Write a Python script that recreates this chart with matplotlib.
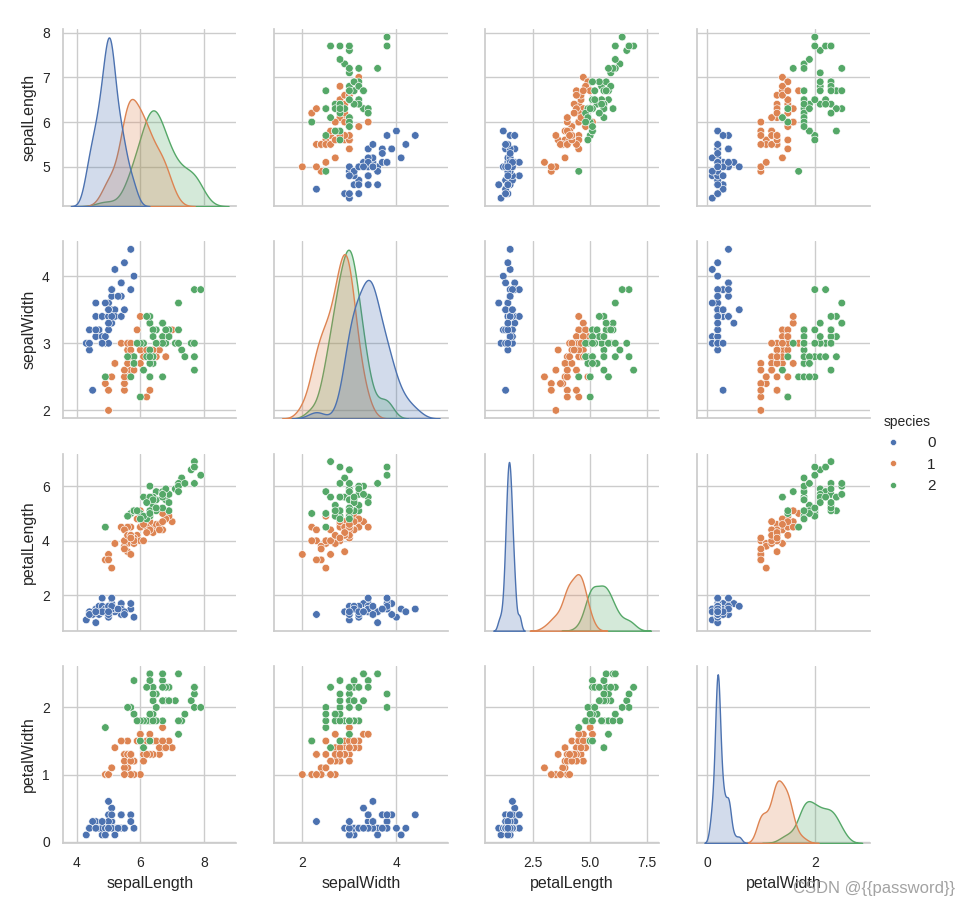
import numpy as np
import pandas as pd
import matplotlib
matplotlib.use("Agg")
import matplotlib.pyplot as plt
from matplotlib.ticker import MultipleLocator
import seaborn as sns

# iris measurements, 50 rows per species (0, 1, 2)
sepalLength = [
    5.1, 4.9, 4.7, 4.6, 5.0, 5.4, 4.6, 5.0, 4.4, 4.9, 5.4, 4.8, 4.8, 4.3, 5.8, 5.7, 5.4, 5.1, 5.7, 5.1,
    5.4, 5.1, 4.6, 5.1, 4.8, 5.0, 5.0, 5.2, 5.2, 4.7, 4.8, 5.4, 5.2, 5.5, 4.9, 5.0, 5.5, 4.9, 4.4, 5.1,
    5.0, 4.5, 4.4, 5.0, 5.1, 4.8, 5.1, 4.6, 5.3, 5.0,
    7.0, 6.4, 6.9, 5.5, 6.5, 5.7, 6.3, 4.9, 6.6, 5.2, 5.0, 5.9, 6.0, 6.1, 5.6, 6.7, 5.6, 5.8, 6.2, 5.6,
    5.9, 6.1, 6.3, 6.1, 6.4, 6.6, 6.8, 6.7, 6.0, 5.7, 5.5, 5.5, 5.8, 6.0, 5.4, 6.0, 6.7, 6.3, 5.6, 5.5,
    5.5, 6.1, 5.8, 5.0, 5.6, 5.7, 5.7, 6.2, 5.1, 5.7,
    6.3, 5.8, 7.1, 6.3, 6.5, 7.6, 4.9, 7.3, 6.7, 7.2, 6.5, 6.4, 6.8, 5.7, 5.8, 6.4, 6.5, 7.7, 7.7, 6.0,
    6.9, 5.6, 7.7, 6.3, 6.7, 7.2, 6.2, 6.1, 6.4, 7.2, 7.4, 7.9, 6.4, 6.3, 6.1, 7.7, 6.3, 6.4, 6.0, 6.9,
    6.7, 6.9, 5.8, 6.8, 6.7, 6.7, 6.3, 6.5, 6.2, 5.9,
]
sepalWidth = [
    3.5, 3.0, 3.2, 3.1, 3.6, 3.9, 3.4, 3.4, 2.9, 3.1, 3.7, 3.4, 3.0, 3.0, 4.0, 4.4, 3.9, 3.5, 3.8, 3.8,
    3.4, 3.7, 3.6, 3.3, 3.4, 3.0, 3.4, 3.5, 3.4, 3.2, 3.1, 3.4, 4.1, 4.2, 3.1, 3.2, 3.5, 3.6, 3.0, 3.4,
    3.5, 2.3, 3.2, 3.5, 3.8, 3.0, 3.8, 3.2, 3.7, 3.3,
    3.2, 3.2, 3.1, 2.3, 2.8, 2.8, 3.3, 2.4, 2.9, 2.7, 2.0, 3.0, 2.2, 2.9, 2.9, 3.1, 3.0, 2.7, 2.2, 2.5,
    3.2, 2.8, 2.5, 2.8, 2.9, 3.0, 2.8, 3.0, 2.9, 2.6, 2.4, 2.4, 2.7, 2.7, 3.0, 3.4, 3.1, 2.3, 3.0, 2.5,
    2.6, 3.0, 2.6, 2.3, 2.7, 3.0, 2.9, 2.9, 2.5, 2.8,
    3.3, 2.7, 3.0, 2.9, 3.0, 3.0, 2.5, 2.9, 2.5, 3.6, 3.2, 2.7, 3.0, 2.5, 2.8, 3.2, 3.0, 3.8, 2.6, 2.2,
    3.2, 2.8, 2.8, 2.7, 3.3, 3.2, 2.8, 3.0, 2.8, 3.0, 2.8, 3.8, 2.8, 2.8, 2.6, 3.0, 3.4, 3.1, 3.0, 3.1,
    3.1, 3.1, 2.7, 3.2, 3.3, 3.0, 2.5, 3.0, 3.4, 3.0,
]
petalLength = [
    1.4, 1.4, 1.3, 1.5, 1.4, 1.7, 1.4, 1.5, 1.4, 1.5, 1.5, 1.6, 1.4, 1.1, 1.2, 1.5, 1.3, 1.4, 1.7, 1.5,
    1.7, 1.5, 1.0, 1.7, 1.9, 1.6, 1.6, 1.5, 1.4, 1.6, 1.6, 1.5, 1.5, 1.4, 1.5, 1.2, 1.3, 1.4, 1.3, 1.5,
    1.3, 1.3, 1.3, 1.6, 1.9, 1.4, 1.6, 1.4, 1.5, 1.4,
    4.7, 4.5, 4.9, 4.0, 4.6, 4.5, 4.7, 3.3, 4.6, 3.9, 3.5, 4.2, 4.0, 4.7, 3.6, 4.4, 4.5, 4.1, 4.5, 3.9,
    4.8, 4.0, 4.9, 4.7, 4.3, 4.4, 4.8, 5.0, 4.5, 3.5, 3.8, 3.7, 3.9, 5.1, 4.5, 4.5, 4.7, 4.4, 4.1, 4.0,
    4.4, 4.6, 4.0, 3.3, 4.2, 4.2, 4.2, 4.3, 3.0, 4.1,
    6.0, 5.1, 5.9, 5.6, 5.8, 6.6, 4.5, 6.3, 5.8, 6.1, 5.1, 5.3, 5.5, 5.0, 5.1, 5.3, 5.5, 6.7, 6.9, 5.0,
    5.7, 4.9, 6.7, 4.9, 5.7, 6.0, 4.8, 4.9, 5.6, 5.8, 6.1, 6.4, 5.6, 5.1, 5.6, 6.1, 5.6, 5.5, 4.8, 5.4,
    5.6, 5.1, 5.1, 5.9, 5.7, 5.2, 5.0, 5.2, 5.4, 5.1,
]
petalWidth = [
    0.2, 0.2, 0.2, 0.2, 0.2, 0.4, 0.3, 0.2, 0.2, 0.1, 0.2, 0.2, 0.1, 0.1, 0.2, 0.4, 0.4, 0.3, 0.3, 0.3,
    0.2, 0.4, 0.2, 0.5, 0.2, 0.2, 0.4, 0.2, 0.2, 0.2, 0.2, 0.4, 0.1, 0.2, 0.2, 0.2, 0.2, 0.1, 0.2, 0.2,
    0.3, 0.3, 0.2, 0.6, 0.4, 0.3, 0.2, 0.2, 0.2, 0.2,
    1.4, 1.5, 1.5, 1.3, 1.5, 1.3, 1.6, 1.0, 1.3, 1.4, 1.0, 1.5, 1.0, 1.4, 1.3, 1.4, 1.5, 1.0, 1.5, 1.1,
    1.8, 1.3, 1.5, 1.2, 1.3, 1.4, 1.4, 1.7, 1.5, 1.0, 1.1, 1.0, 1.2, 1.6, 1.5, 1.6, 1.5, 1.3, 1.3, 1.3,
    1.2, 1.4, 1.2, 1.0, 1.3, 1.2, 1.3, 1.3, 1.1, 1.3,
    2.5, 1.9, 2.1, 1.8, 2.2, 2.1, 1.7, 1.8, 1.8, 2.5, 2.0, 1.9, 2.1, 2.0, 2.4, 2.3, 1.8, 2.2, 2.3, 1.5,
    2.3, 2.0, 2.0, 1.8, 2.1, 1.8, 1.8, 1.8, 2.1, 1.6, 1.9, 2.0, 2.2, 1.5, 1.4, 2.3, 2.4, 1.8, 1.8, 2.1,
    2.4, 2.3, 1.9, 2.3, 2.5, 2.3, 1.9, 2.0, 2.3, 1.8,
]
species = [0] * 50 + [1] * 50 + [2] * 50

cols = ["sepalLength", "sepalWidth", "petalLength", "petalWidth"]
# tick steps used in the reference, x axis and y axis
x_step = {"sepalLength": 2, "sepalWidth": 2, "petalLength": 2.5, "petalWidth": 2}
y_step = {"sepalLength": 1, "sepalWidth": 1, "petalLength": 2, "petalWidth": 1}

sns.set_theme(style="whitegrid")
plt.rcParams["font.family"] = ["Liberation Sans", "DejaVu Sans"]
plt.rcParams["xtick.labelsize"] = 10
plt.rcParams["ytick.labelsize"] = 10
plt.rcParams["axes.labelsize"] = 11.5

df = pd.DataFrame({
    "sepalLength": sepalLength,
    "sepalWidth": sepalWidth,
    "petalLength": petalLength,
    "petalWidth": petalWidth,
    "species": species,
})

g = sns.pairplot(df, hue="species", palette=sns.color_palette("deep", 3),
                 plot_kws={"s": 30}, height=2.2)
fig = g.fig
fig.set_size_inches(9.7, 9.08)
fig.subplots_adjust(left=63 / 970, right=870 / 970, top=1 - 29 / 908,
                    bottom=1 - 843 / 908, wspace=0.218, hspace=0.198)

for i, yv in enumerate(cols):
    for j, xv in enumerate(cols):
        ax = g.axes[i, j]
        ax.xaxis.set_major_locator(MultipleLocator(x_step[xv]))
        ax.yaxis.set_major_locator(MultipleLocator(y_step[yv]))

# move the legend to where the reference has it
handles = list(g._legend_data.values())
labels = list(g._legend_data.keys())
g._legend.remove()
fig.legend(handles=handles, labels=labels, title="species", loc="center left",
           bbox_to_anchor=(0.891, 0.5), frameon=False, fontsize=11,
           title_fontsize=10, handlelength=2.0, handletextpad=1.2,
           labelspacing=0.5, markerscale=0.8)

fig.text(0.985, 0.022, "CSDN @{{password}}", ha="right", va="center",
         fontsize=12, color="#999999", alpha=0.9)

fig.savefig("out.png", dpi=100)
